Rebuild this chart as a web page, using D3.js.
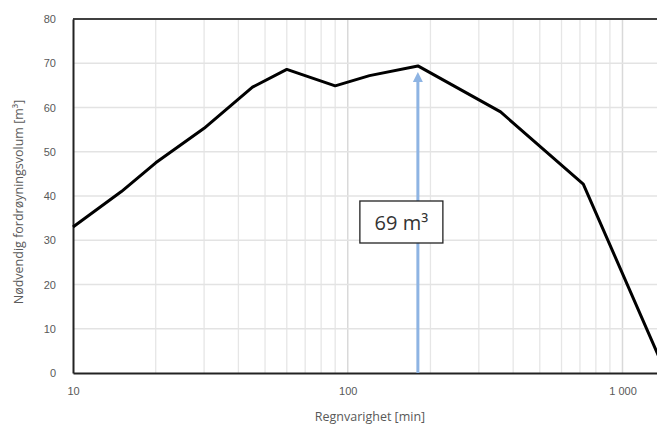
<!DOCTYPE html>
<html>
<head>
<meta charset="utf-8">
<script src="https://d3js.org/d3.v7.min.js"></script>
<style>
  body { margin: 0; background: #fff; }
  svg { display: block; font-family: "Open Sans", sans-serif; }
</style>
</head>
<body>
<div id="chart"></div>
<script>
// regnvarighet (min) og nødvendig volum (m3)
const durations = [10, 15, 20, 30, 45, 60, 90, 120, 180, 360, 720, 1440];
const volumes = [33, 41, 47.5, 55.3, 64.6, 68.6, 64.9, 67.2, 69.4, 59, 42.7, 0];
const yTicks = [0, 10, 20, 30, 40, 50, 60, 70, 80];
const xTicks = [10, 100, 1000];
const peakDuration = 180;
const peakLabel = "69 m³";

const width = 657, height = 432;
const margin = { left: 73, top: 19, bottom: 59 };

const svg = d3.select("#chart").append("svg")
    .attr("width", width)
    .attr("height", height);

const x = d3.scaleLog().domain([10, 1440]).range([margin.left, 666]);
const y = d3.scaleLinear().domain([0, 80]).range([height - margin.bottom, margin.top]);

// rutenett - minor linjer for log-aksen
const minor = [];
for (let dec = 10; dec <= 1000; dec *= 10) {
    for (let k = 2; k <= 9; k++) minor.push(dec * k);
}
svg.append("g").selectAll("line")
    .data(minor.filter(d => d <= 1440))
    .join("line")
    .attr("x1", d => x(d)).attr("x2", d => x(d))
    .attr("y1", y(0)).attr("y2", y(80))
    .attr("stroke", "#e6e6e6").attr("stroke-width", 1.3);

svg.append("g").selectAll("line")
    .data([100, 1000])
    .join("line")
    .attr("x1", d => x(d)).attr("x2", d => x(d))
    .attr("y1", y(0)).attr("y2", y(80))
    .attr("stroke", "#d9d9d9").attr("stroke-width", 1.5);

svg.append("g").selectAll("line")
    .data(yTicks.slice(1, -1))
    .join("line")
    .attr("x1", margin.left).attr("x2", width)
    .attr("y1", d => y(d)).attr("y2", d => y(d))
    .attr("stroke", "#e3e3e3").attr("stroke-width", 1.3);

// ramme
svg.append("line")
    .attr("x1", margin.left).attr("x2", width)
    .attr("y1", y(80)).attr("y2", y(80))
    .attr("stroke", "#404040").attr("stroke-width", 2);

// akser
const yAxis = d3.axisLeft(y).tickValues(yTicks).tickSize(0).tickPadding(17);
svg.append("g")
    .attr("transform", `translate(${margin.left},0)`)
    .call(yAxis)
    .call(g => g.select(".domain").attr("stroke", "#222").attr("stroke-width", 2))
    .call(g => g.selectAll("text").attr("fill", "#595959").attr("font-size", 11));

const fmt = d => d >= 1000 ? d3.format(",")(d).replace(",", " ") : String(d);
const xAxis = d3.axisBottom(x).tickValues(xTicks).tickFormat(fmt).tickSize(0).tickPadding(14);
svg.append("g")
    .attr("transform", `translate(0,${y(0)})`)
    .call(xAxis)
    .call(g => g.select(".domain").attr("stroke", "#222").attr("stroke-width", 2))
    .call(g => g.selectAll("text").attr("fill", "#595959").attr("font-size", 11));

// kurven
const line = d3.line().x((d, i) => x(durations[i])).y(d => y(d));
svg.append("path")
    .datum(volumes)
    .attr("d", line)
    .attr("fill", "none")
    .attr("stroke", "#000")
    .attr("stroke-width", 3)
    .attr("stroke-linejoin", "round");

// pil til toppunktet
const peakVal = volumes[durations.indexOf(peakDuration)];
const ax = x(peakDuration);
const tipY = y(peakVal) + 6;
svg.append("line")
    .attr("x1", ax).attr("x2", ax)
    .attr("y1", y(0)).attr("y2", tipY + 8)
    .attr("stroke", "#8eb4e3").attr("stroke-width", 3);
svg.append("path")
    .attr("d", `M${ax},${tipY} L${ax - 5},${tipY + 10} L${ax + 5},${tipY + 10} Z`)
    .attr("fill", "#8eb4e3");

// etikett
const lbl = svg.append("g").attr("transform", `translate(${ax - 58},201)`);
lbl.append("rect")
    .attr("width", 83).attr("height", 42)
    .attr("fill", "#fff").attr("stroke", "#222").attr("stroke-width", 1.3);
lbl.append("text")
    .attr("x", 41.5).attr("y", 28.5)
    .attr("text-anchor", "middle")
    .attr("font-size", 20)
    .attr("fill", "#333")
    .text(peakLabel);

// aksetitler
svg.append("text")
    .attr("x", 370).attr("y", 421)
    .attr("text-anchor", "middle")
    .attr("font-size", 12.5)
    .attr("fill", "#595959")
    .text("Regnvarighet [min]");

svg.append("text")
    .attr("transform", "translate(23,202) rotate(-90)")
    .attr("text-anchor", "middle")
    .attr("font-size", 12.5)
    .attr("fill", "#595959")
    .text("Nødvendig fordrøyningsvolum [m³]");
</script>
</body>
</html>
